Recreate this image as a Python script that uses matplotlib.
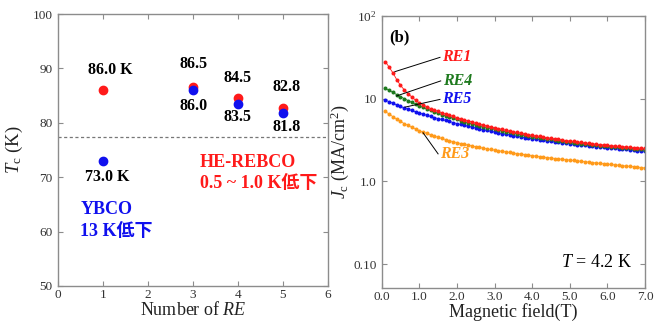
import numpy as np
import matplotlib
matplotlib.use("Agg")
import matplotlib.pyplot as plt
from matplotlib.ticker import FixedLocator, FixedFormatter

plt.rcParams['font.family'] = ['Liberation Serif', 'Noto Sans CJK JP']
plt.rcParams['mathtext.fontset'] = 'custom'
plt.rcParams['mathtext.rm'] = 'Liberation Serif'
plt.rcParams['mathtext.it'] = 'Liberation Serif:italic'
plt.rcParams['mathtext.bf'] = 'Liberation Serif:bold'

# ---- Left panel data: Tc vs number of RE ----
n_re = [1, 3, 4, 5]
tc_he = [86.0, 86.5, 84.5, 82.8]
tc_y = [73.0, 86.0, 83.5, 81.8]
lbl_he = ["86.0 K", "86.5", "84.5", "82.8"]
lbl_y = ["73.0 K", "86.0", "83.5", "81.8"]
ref_line = 77.3

# ---- Right panel data: Jc vs field at 4.2 K ----
field = np.round(np.arange(1, 71) * 0.1, 1)
jc_re1 = [28.0, 24.0, 20.5, 17.0, 14.5, 12.8, 11.5, 10.5, 9.6, 8.9,
          8.4, 8.0, 7.6, 7.3, 7.0, 6.75, 6.5, 6.3, 6.1, 5.9,
          5.7, 5.55, 5.4, 5.2, 5.05, 4.9, 4.8, 4.68, 4.55, 4.45,
          4.35, 4.25, 4.15, 4.05, 3.97, 3.9, 3.82, 3.75, 3.68, 3.6,
          3.55, 3.49, 3.43, 3.37, 3.32, 3.27, 3.22, 3.17, 3.12, 3.08,
          3.04, 3.0, 2.96, 2.92, 2.88, 2.85, 2.82, 2.79, 2.76, 2.73,
          2.70, 2.68, 2.65, 2.63, 2.61, 2.58, 2.56, 2.54, 2.52, 2.50]
jc_re4 = [13.3, 12.6, 11.9, 11.2, 10.6, 10.0, 9.5, 9.0, 8.6, 8.2,
          7.85, 7.5, 7.2, 6.9, 6.65, 6.4, 6.2, 6.0, 5.8, 5.6,
          5.43, 5.27, 5.12, 4.98, 4.85, 4.72, 4.6, 4.48, 4.37, 4.27,
          4.17, 4.08, 3.99, 3.91, 3.83, 3.75, 3.68, 3.61, 3.54, 3.48,
          3.42, 3.36, 3.31, 3.26, 3.21, 3.16, 3.11, 3.07, 3.03, 2.99,
          2.95, 2.91, 2.87, 2.84, 2.80, 2.77, 2.74, 2.71, 2.68, 2.65,
          2.62, 2.60, 2.57, 2.55, 2.52, 2.50, 2.48, 2.46, 2.44, 2.42]
jc_re5 = [9.6, 9.2, 8.8, 8.4, 8.05, 7.75, 7.45, 7.2, 6.95, 6.7,
          6.5, 6.3, 6.1, 5.9, 5.75, 5.6, 5.45, 5.3, 5.15, 5.0,
          4.88, 4.76, 4.64, 4.53, 4.42, 4.32, 4.22, 4.13, 4.04, 3.95,
          3.87, 3.79, 3.72, 3.65, 3.58, 3.51, 3.45, 3.39, 3.33, 3.28,
          3.23, 3.18, 3.13, 3.08, 3.04, 3.0, 2.96, 2.92, 2.88, 2.85,
          2.81, 2.78, 2.75, 2.72, 2.69, 2.66, 2.63, 2.60, 2.57, 2.55,
          2.52, 2.50, 2.47, 2.45, 2.43, 2.40, 2.38, 2.36, 2.34, 2.32]
jc_re3 = [7.0, 6.5, 6.05, 5.65, 5.3, 5.0, 4.75, 4.5, 4.3, 4.1,
          3.95, 3.8, 3.66, 3.53, 3.41, 3.3, 3.2, 3.1, 3.02, 2.94,
          2.87, 2.80, 2.74, 2.68, 2.62, 2.57, 2.52, 2.47, 2.43, 2.39,
          2.35, 2.31, 2.27, 2.24, 2.20, 2.17, 2.14, 2.11, 2.08, 2.05,
          2.02, 1.99, 1.97, 1.94, 1.92, 1.89, 1.87, 1.85, 1.83, 1.81,
          1.79, 1.77, 1.75, 1.73, 1.71, 1.69, 1.67, 1.65, 1.63, 1.62,
          1.60, 1.58, 1.57, 1.55, 1.53, 1.52, 1.50, 1.49, 1.47, 1.45]

fig = plt.figure(figsize=(6.55, 3.25), dpi=100)
grey = '#8c8c8c'
tickcol = '#333333'

def style(ax):
    for s in ax.spines.values():
        s.set_color(grey)
        s.set_linewidth(1.0)
    ax.tick_params(direction='in', top=True, right=True, color=grey,
                   labelcolor=tickcol, labelsize=9.5, length=3.5, width=0.8)

# ---------- Left ----------
ax1 = fig.add_axes([0.0881, 0.12, 0.4127, 0.8369])
style(ax1)
ax1.axhline(ref_line, color='#777777', ls=(0, (2.5, 2)), lw=0.9)
ax1.plot(n_re, tc_he, 'o', color='#ff1a1a', ms=6, zorder=3)
ax1.plot(n_re, tc_y, 'o', color='#1010ee', ms=6, zorder=4)
ax1.set_xlim(0, 6)
ax1.set_ylim(50, 100)
ax1.set_xticks(range(0, 7))
ax1.set_yticks(range(50, 101, 10))
ax1.tick_params(axis='x', pad=2)
he_pos = [(1.16, 89.7), (3.01, 90.9), (3.99, 88.2), (5.08, 86.5)]
y_pos = [(1.09, 70.0), (3.01, 83.0), (3.99, 81.1), (5.08, 79.3)]
for (x, y), t in zip(he_pos, lbl_he):
    ax1.text(x, y, t, ha='center', va='center', fontsize=11.5, fontweight='bold', color='black')
for (x, y), t in zip(y_pos, lbl_y):
    ax1.text(x, y, t, ha='center', va='center', fontsize=11.5, fontweight='bold', color='black')
ax1.text(3.16, 72.7, "HE-REBCO", ha='left', va='center', fontsize=13,
         fontweight='bold', color='#ff1a1a')
ax1.text(3.16, 68.9, "0.5 ~ 1.0 K低下", ha='left', va='center', fontsize=13,
         fontweight='bold', color='#ff1a1a')
ax1.text(0.5, 64.0, "YBCO", ha='left', va='center', fontsize=13,
         fontweight='bold', color='#1010ee')
ax1.text(0.5, 60.0, "13 K低下", ha='left', va='center', fontsize=13,
         fontweight='bold', color='#1010ee')
ax1.set_xlabel(r"Number of $\mathit{RE}$", fontsize=13, color='#222222', labelpad=0)
ax1.set_ylabel(r"$T_{\rm c}$ (K)", fontsize=13.5, color='#222222', labelpad=6)

# ---------- Right ----------
ax2 = fig.add_axes([0.5827, 0.1138, 0.402, 0.837])
style(ax2)
ax2.set_yscale('log')
series = [(jc_re3, '#ff9a1a'), (jc_re5, '#1010ee'), (jc_re4, '#1e7a1e'), (jc_re1, '#ff1a1a')]
for vals, c in series:
    ax2.plot(field, vals, '-o', color=c, ms=2.9, lw=0.6, mew=0)
ax2.set_xlim(0, 7)
ax2.set_ylim(0.0513, 100)
ax2.set_xticks(range(0, 8))
ax2.set_xticklabels([f"{v:.1f}" for v in range(0, 8)])
ax2.yaxis.set_major_locator(FixedLocator([0.1, 1, 10, 100]))
ax2.yaxis.set_major_formatter(FixedFormatter(['0.10', '1.0', '10', r'$10^2$']))
ax2.yaxis.set_minor_locator(FixedLocator([]))
ax2.tick_params(axis='x', pad=2)
ax2.set_xlabel("Magnetic field(T)", fontsize=13, color='#222222', labelpad=0)
ax2.set_ylabel(r"$J_{\rm c}$ (MA/cm$^2$)", fontsize=13, color='#222222', labelpad=2)

ax2.text(0.2, 55, "(b)", fontsize=12, fontweight='bold', ha='left', va='center')
ax2.text(6.65, 0.103, r"$T$ = 4.2 K", fontsize=13, ha='right', va='center')

ann = [("RE1", '#ff1a1a', (1.6, 31.6), (0.35, 21.2)),
       ("RE4", '#1e7a1e', (1.62, 16.4), (0.4, 10.8)),
       ("RE5", '#1010ee', (1.6, 9.8), (0.62, 7.9)),
       ("RE3", '#ff9a1a', (1.55, 2.15), (1.1, 3.87))]
for t, c, (tx, ty), (px, py) in ann:
    ax2.plot([tx - 0.05, px], [ty, py], color='black', lw=0.7)
    ax2.text(tx, ty, t, color=c, fontsize=11.5, fontweight='bold', fontstyle='italic',
             ha='left', va='center')

fig.savefig("out.png", dpi=100)
